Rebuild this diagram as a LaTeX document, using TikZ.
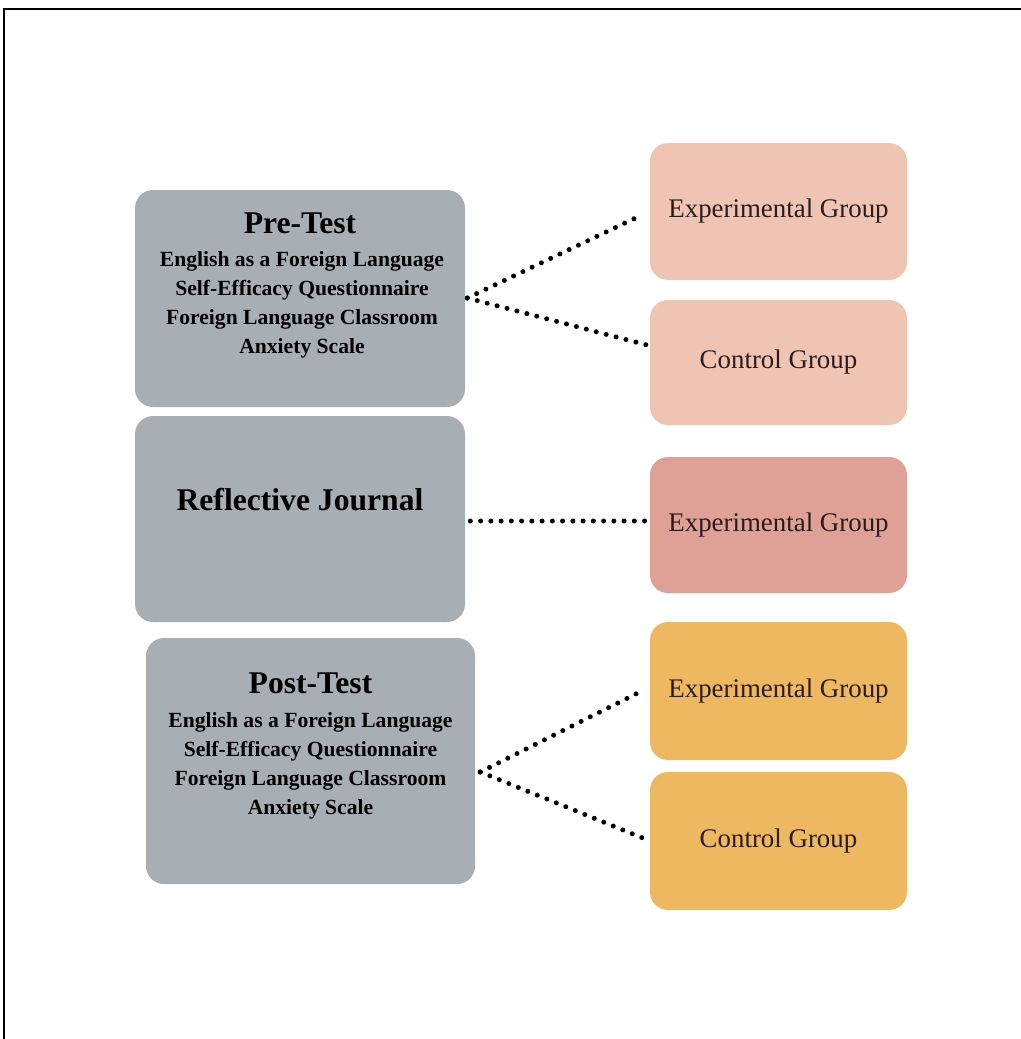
\documentclass[tikz,border=0pt]{standalone}
\usepackage{fontspec}
\setmainfont{Liberation Serif}
\usetikzlibrary{calc}
\definecolor{testgray}{HTML}{A7AEB4}
\definecolor{peach}{HTML}{F0C4B2}
\definecolor{rose}{HTML}{DFA096}
\definecolor{amber}{HTML}{EEB860}
\definecolor{grptext}{HTML}{2A1C1C}
\begin{document}
\begin{tikzpicture}[x=0.02cm,y=-0.02cm,
  testbox/.style={draw=none,fill=testgray,rounded corners=0.36cm,inner sep=0pt},
  grpbox/.style={draw=none,rounded corners=0.36cm,minimum width=257*0.02cm,inner sep=0pt,
     font=\fontsize{15.3}{18}\selectfont,text=grptext},
  ttl/.style={font=\bfseries\fontsize{18}{20}\selectfont,inner sep=0pt},
  bodytxt/.style={font=\bfseries\fontsize{12.3}{16.6}\selectfont,align=center,inner sep=0pt},
  dotline/.style={line width=0.1cm,line cap=round,dash pattern=on 0pt off 0.205cm}]
\useasboundingbox (0,0) rectangle (1021,1039);
% frame
\draw[line width=0.04cm] (4,1039) -- (4,9) -- (1021,9);
% left boxes
\node[testbox,minimum width=330*0.02cm,minimum height=217*0.02cm] (pre) at (300,298.5) {};
\node[testbox,minimum width=330*0.02cm,minimum height=206*0.02cm] (jour) at (300,519) {};
\node[testbox,minimum width=329*0.02cm,minimum height=246*0.02cm] (post) at (310.5,761) {};
\node[ttl,anchor=base] (pretitle) at (300,233) {Pre-Test};
\node[bodytxt,anchor=north] (pretext) at (302,251) {English as a Foreign Language\\Self-Efficacy Questionnaire\\Foreign Language Classroom\\Anxiety Scale};
\node[ttl] (jtitle) at (300,500) {Reflective Journal};
\node[ttl,anchor=base] (posttitle) at (310.5,693) {Post-Test};
\node[bodytxt,anchor=north] (posttext) at (310.5,712) {English as a Foreign Language\\Self-Efficacy Questionnaire\\Foreign Language Classroom\\Anxiety Scale};
% right boxes
\node[grpbox,fill=peach,minimum height=137*0.02cm] (exp1) at (778.5,211.5) {Experimental Group};
\node[grpbox,fill=peach,minimum height=125*0.02cm] (ctrl1) at (778.5,362.5) {Control Group};
\node[grpbox,fill=rose,minimum height=136*0.02cm] (exp2) at (778.5,525) {Experimental Group};
\node[grpbox,fill=amber,minimum height=138*0.02cm] (exp3) at (778.5,691) {Experimental Group};
\node[grpbox,fill=amber,minimum height=138*0.02cm] (ctrl3) at (778.5,841) {Control Group};
% connector endpoints
\coordinate (p0) at ($(pre.east)+(2,-0.5)$);
\coordinate (p1) at ($(exp1.west)+(-11,5)$);
\coordinate (p2) at ($(ctrl1.west)+(1,-16.5)$);
\coordinate (j0) at ($(jour.east)+(5,2)$);
\coordinate (j1) at ($(exp2.west)+(-3,-4)$);
\coordinate (q0) at ($(post.east)+(5,11)$);
\coordinate (q1) at ($(exp3.west)+(-8,0)$);
\coordinate (q2) at ($(ctrl3.west)+(-2,-1)$);
\draw[dotline] (p0) -- (p1);
\draw[dotline] (p0) -- (p2);
\draw[dotline] (j0) -- (j1);
\draw[dotline] (q0) -- (q1);
\draw[dotline] (q0) -- (q2);
\end{tikzpicture}
\end{document}
